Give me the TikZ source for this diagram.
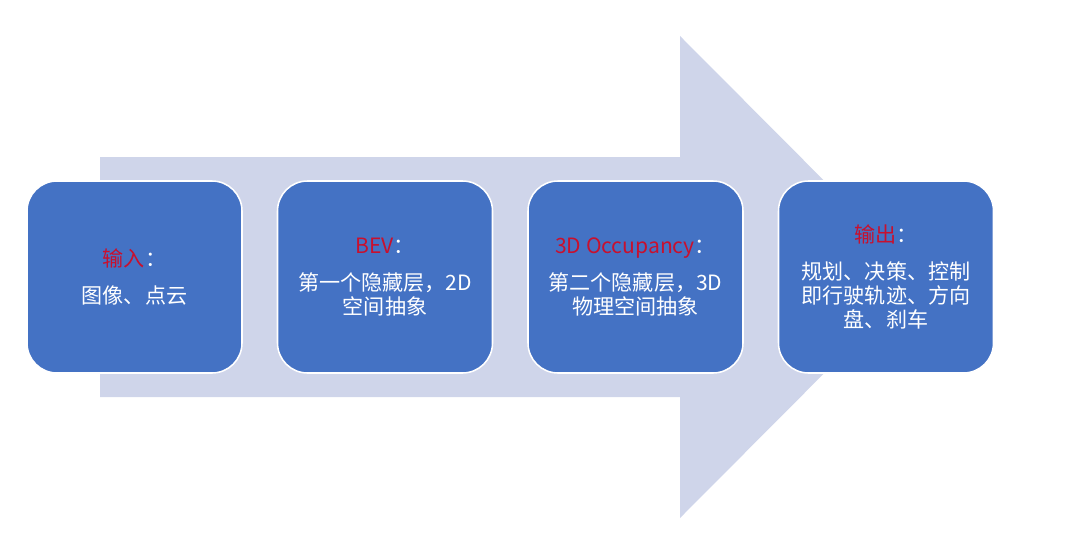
\documentclass[tikz,border=0pt]{standalone}
\usepackage{fontspec}
\setmainfont{Noto Sans CJK SC}
\usepackage{tikz}

\definecolor{stageblue}{HTML}{4472C4}
\definecolor{flowlav}{HTML}{CFD5EA}
\definecolor{labelred}{RGB}{200,16,46}

\begin{document}
\begin{tikzpicture}[every node/.style={font=\fontsize{15}{17}\selectfont}, stage/.style={draw=white, line width=1.1pt, rounded corners=0.75cm, fill=stageblue, text=white, align=center, minimum width=5.375cm, minimum height=4.8cm, inner sep=2pt}]
	\useasboundingbox (0,0) rectangle (27,-13.4);
	% background arrow
	\fill[flowlav] (2.5,-3.925) -- (17,-3.925) -- (17,-0.9) -- (23,-6.925) -- (17,-12.95) -- (17,-9.925) -- (2.5,-9.925) -- cycle;
	\node[stage] (s1) at (3.3625,-6.925) {{\color{labelred}输入}：\\[9pt]图像、点云};
	\node[stage] (s2) at (9.625,-6.925) {{\color{labelred}BEV}：\\[9pt]第一个隐藏层，2D\\空间抽象};
	\node[stage] (s3) at (15.8875,-6.925) {{\color{labelred}3D Occupancy}：\\[9pt]第二个隐藏层，3D\\物理空间抽象};
	\node[stage] (s4) at (22.15,-6.925) {{\color{labelred}输出}：\\[9pt]规划、决策、控制\\即行驶轨迹、方向\\盘、刹车};
\end{tikzpicture}
\end{document}
